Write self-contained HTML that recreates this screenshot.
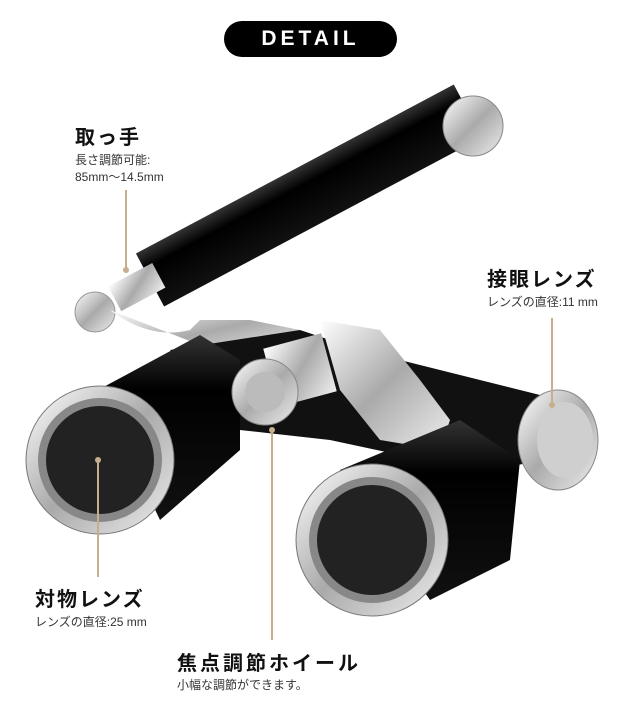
<!DOCTYPE html>
<html><head><meta charset="utf-8"><style>
body{margin:0;width:640px;height:721px;background:#fff;position:relative;overflow:hidden;font-family:"Liberation Sans","Noto Sans CJK JP",sans-serif;color:#111}
.pill{position:absolute;left:224px;top:21px;width:173px;height:36px;background:#000;border-radius:18px;color:#fff;font-weight:bold;font-size:21px;letter-spacing:4px;text-align:center;line-height:36px}
.t{position:absolute;font-weight:bold;font-size:20px;letter-spacing:2px;white-space:nowrap}
.s{position:absolute;font-size:12px;color:#333;white-space:nowrap;line-height:17px}
.ln{position:absolute;width:2px;background:#c7ae8c}
svg{position:absolute;left:0;top:0}
</style></head><body>
<svg width="640" height="721">
<defs>
<linearGradient id="sv" x1="0" y1="0" x2="1" y2="1"><stop offset="0" stop-color="#fff"/><stop offset=".5" stop-color="#aaa"/><stop offset="1" stop-color="#eee"/></linearGradient>
<linearGradient id="bk" x1="0" y1="0" x2="0" y2="1"><stop offset="0" stop-color="#333"/><stop offset=".3" stop-color="#000"/><stop offset="1" stop-color="#111"/></linearGradient>
</defs>
<g transform="translate(150,280) rotate(-28)">
<rect x="0" y="-30" width="360" height="60" fill="url(#bk)"/>
<rect x="-40" y="-14" width="50" height="28" fill="url(#sv)"/>
</g>
<circle cx="473" cy="126" r="30" fill="url(#sv)" stroke="#888"/>
<circle cx="95" cy="312" r="20" fill="url(#sv)" stroke="#999"/>
<path d="M110 310 Q150 340 190 330 L200 320 L250 320 L300 330 L290 355 L200 345 Z" fill="url(#sv)"/>
<path d="M170 350 L300 330 L360 350 L560 400 L560 460 L470 470 L330 440 L240 430 Z" fill="#111"/>
<path d="M320 320 L380 330 L420 380 L450 420 L440 450 L380 440 L340 390 Z" fill="url(#sv)"/>
<ellipse cx="558" cy="440" rx="40" ry="50" fill="url(#sv)" stroke="#888"/>
<ellipse cx="565" cy="440" rx="28" ry="38" fill="#cfcfcf"/>
<path d="M98 390 L200 335 L240 360 L240 450 L160 520 Z" fill="url(#bk)"/>
<circle cx="100" cy="460" r="74" fill="url(#sv)" stroke="#777"/>
<circle cx="100" cy="460" r="62" fill="#888"/>
<circle cx="100" cy="460" r="54" fill="#222"/>
<path d="M340 470 L460 420 L520 460 L510 560 L430 600 Z" fill="url(#bk)"/>
<circle cx="372" cy="540" r="76" fill="url(#sv)" stroke="#777"/>
<circle cx="372" cy="540" r="63" fill="#888"/>
<circle cx="372" cy="540" r="55" fill="#222"/>
<rect x="270" y="340" width="60" height="60" fill="url(#sv)" transform="rotate(-15 300 370)"/>
<circle cx="265" cy="392" r="33" fill="url(#sv)" stroke="#888"/>
<circle cx="265" cy="392" r="20" fill="#bbb"/>
<circle cx="126" cy="270" r="3" fill="#c7ae8c"/>
<circle cx="552" cy="405" r="3" fill="#c7ae8c"/>
<circle cx="98" cy="460" r="3" fill="#c7ae8c"/>
<circle cx="272" cy="430" r="3" fill="#c7ae8c"/>
</svg>
<div class="pill">DETAIL</div>
<div class="t" style="left:75px;top:121px">取っ手</div>
<div class="s" style="left:75px;top:152px">長さ調節可能:<br>85mm〜14.5mm</div>
<div class="ln" style="left:125px;top:190px;height:80px"></div>
<div class="t" style="left:487px;top:263px">接眼レンズ</div>
<div class="s" style="left:487px;top:294px">レンズの直径:11 mm</div>
<div class="ln" style="left:551px;top:318px;height:87px"></div>
<div class="t" style="left:35px;top:583px">対物レンズ</div>
<div class="s" style="left:35px;top:614px">レンズの直径:25 mm</div>
<div class="ln" style="left:97px;top:460px;height:117px"></div>
<div class="t" style="left:177px;top:647px;letter-spacing:3px">焦点調節ホイール</div>
<div class="s" style="left:177px;top:677px">小幅な調節ができます。</div>
<div class="ln" style="left:271px;top:430px;height:210px"></div>
</body></html>
